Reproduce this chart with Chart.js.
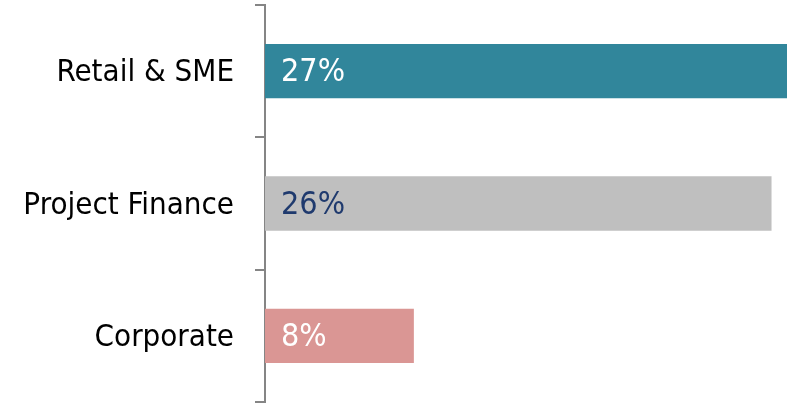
<!DOCTYPE html>
<html>
<head>
<meta charset="utf-8">
<script src="https://cdn.jsdelivr.net/npm/chart.js@4/dist/chart.umd.min.js"></script>
<style>
  html, body { margin: 0; padding: 0; background: #fff; }
  #wrap { width: 790px; height: 403px; position: relative; }
</style>
</head>
<body>
<div id="wrap"><canvas id="c"></canvas></div>
<script>
const categories = ["Retail & SME", "Project Finance", "Corporate"];
const values = [27.0, 26.2, 7.7];
const valueLabels = ["27%", "26%", "8%"];
const barColors = ["#31869B", "#BFBFBF", "#DA9694"];
const labelColors = ["#FFFFFF", "#1F3A6E", "#FFFFFF"];

const FONT = "'DejaVu Sans Condensed', 'DejaVu Sans', sans-serif";

const valueLabelPlugin = {
  id: 'valueLabels',
  afterDatasetsDraw(chart) {
    const ctx = chart.ctx;
    const meta = chart.getDatasetMeta(0);
    ctx.save();
    ctx.font = "32px " + FONT;
    ctx.textAlign = 'left';
    ctx.textBaseline = 'middle';
    meta.data.forEach((bar, i) => {
      const p = bar.getProps(['x', 'y', 'base'], true);
      ctx.fillStyle = labelColors[i];
      ctx.fillText(valueLabels[i], p.base + 16, p.y + 2);
    });
    ctx.restore();
  }
};

new Chart(document.getElementById('c'), {
  type: 'bar',
  data: {
    labels: categories,
    datasets: [{
      data: values,
      backgroundColor: barColors,
      borderWidth: 0,
      categoryPercentage: 1.0,
      barPercentage: 0.41
    }]
  },
  options: {
    indexAxis: 'y',
    responsive: true,
    maintainAspectRatio: false,
    animation: false,
    events: [],
    layout: { padding: { top: 5, bottom: 1, right: 3, left: 0 } },
    plugins: { legend: { display: false }, tooltip: { enabled: false } },
    scales: {
      x: {
        display: false,
        min: 0,
        max: 27
      },
      y: {
        afterFit(scale) {
          scale.width = 265;
          scale.paddingTop = 0;
          scale.paddingBottom = 0;
        },
        border: { display: true, color: '#858585', width: 2 },
        grid: {
          display: true,
          drawOnChartArea: false,
          drawTicks: true,
          tickLength: 10,
          color: '#858585',
          lineWidth: 2,
          offset: true
        },
        ticks: {
          color: '#000000',
          padding: 21,
          labelOffset: 2,
          font: { family: FONT, size: 31 }
        }
      }
    }
  },
  plugins: [valueLabelPlugin]
});
</script>
</body>
</html>
